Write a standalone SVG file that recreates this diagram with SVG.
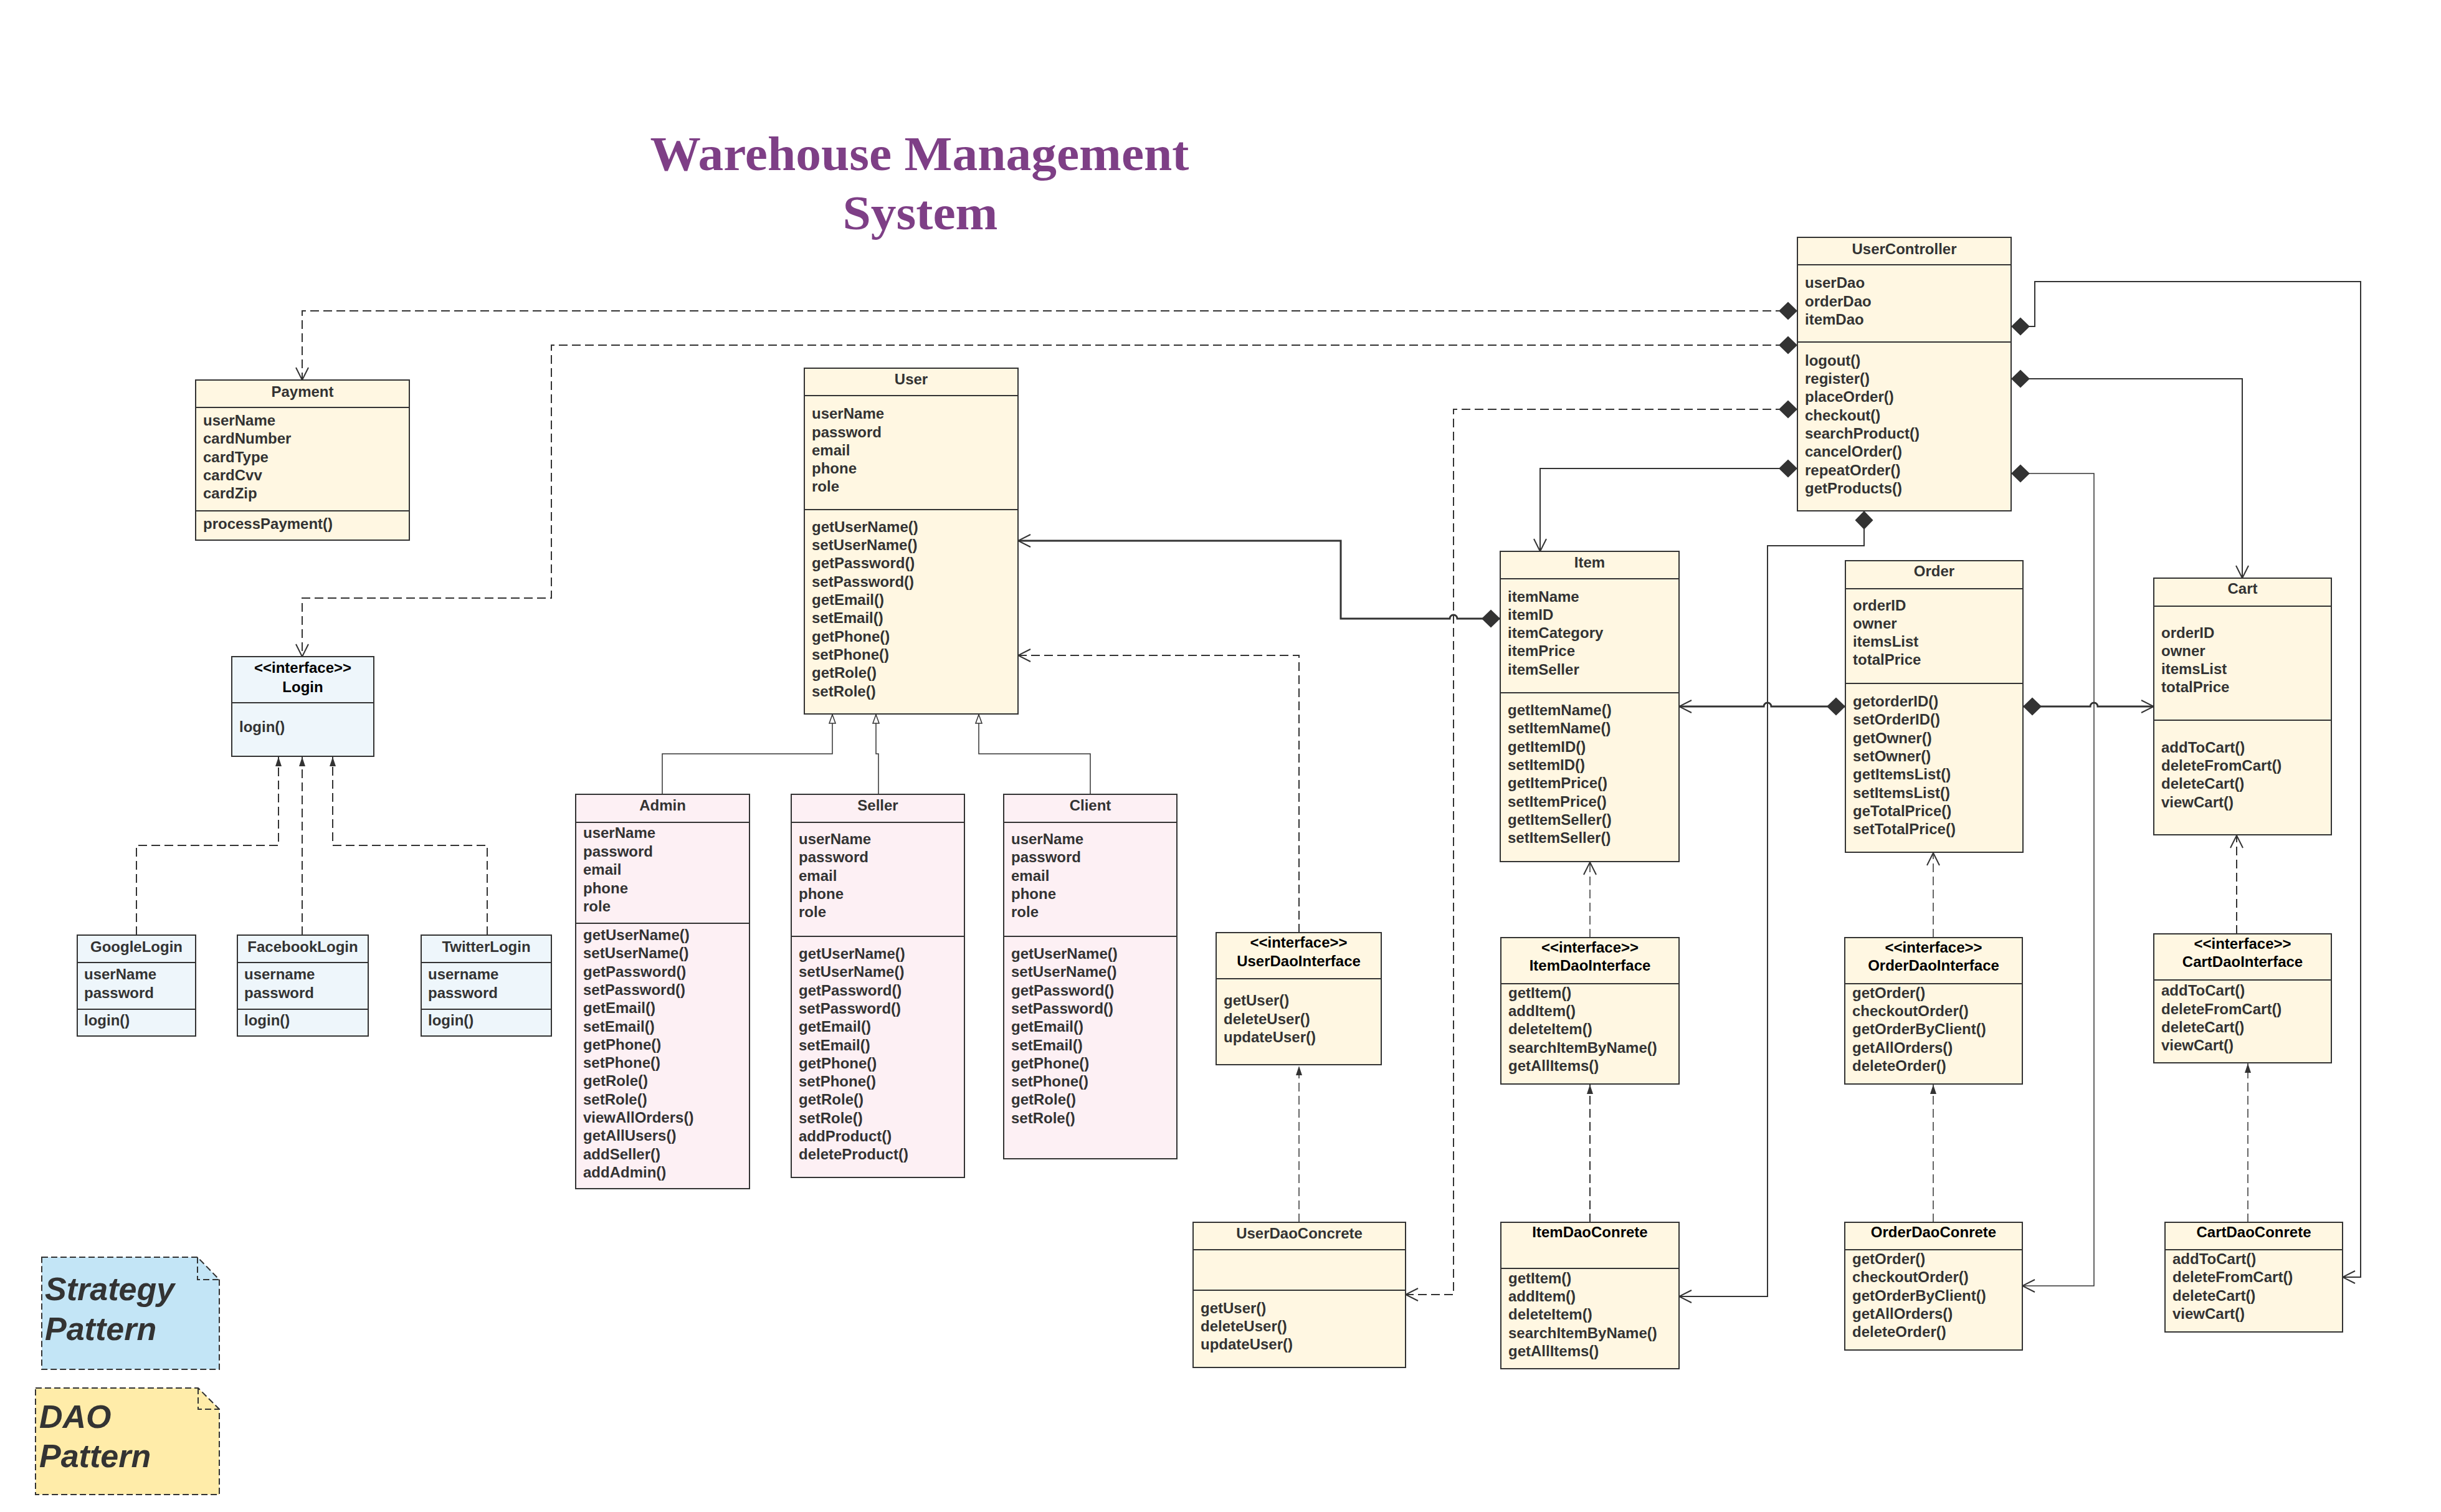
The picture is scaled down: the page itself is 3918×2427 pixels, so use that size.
<svg xmlns="http://www.w3.org/2000/svg" width="3918" height="2427" viewBox="0 0 3918 2427">
<style>
.box{fill:#FFF7E2;stroke:#333;stroke-width:2}
.pink{fill:#FDF0F4}
.blue{fill:#EEF6FB}
.ln{stroke:#333;stroke-width:2;fill:none}
.t{font-family:"Liberation Sans",Arial,sans-serif;font-size:24px;font-weight:bold;fill:#333}
.c{text-anchor:middle}
.k{fill:#000}
.conn{fill:none;stroke:#333;stroke-width:2}
.thick{stroke-width:3}
.thin{stroke-width:1.5}
.dash{stroke-dasharray:14 7}
.note{stroke:#333;stroke-width:2;stroke-dasharray:10 5}
.nt{font-family:"Liberation Sans",Arial,sans-serif;font-size:52px;font-weight:bold;font-style:italic;fill:#333}
</style>
<defs>
<marker id="open" viewBox="0 0 22 22" refX="21" refY="11" markerWidth="22" markerHeight="22" markerUnits="userSpaceOnUse" orient="auto"><path d="M1 1 L21 11 L1 21" fill="none" stroke="#333" stroke-width="2" stroke-dasharray="none"/></marker>
<marker id="dia" viewBox="0 0 30 30" refX="0" refY="15" markerWidth="30" markerHeight="30" markerUnits="userSpaceOnUse" orient="auto"><path d="M0 15 L15 0.5 L30 15 L15 29.5Z" fill="#333"/></marker>
<marker id="tri" viewBox="0 0 16 12" refX="15" refY="6" markerWidth="16" markerHeight="12" markerUnits="userSpaceOnUse" orient="auto"><path d="M0 1 L15 6 L0 11Z" fill="#333"/></marker>
<marker id="htri" viewBox="0 0 16 12" refX="15" refY="6" markerWidth="16" markerHeight="12" markerUnits="userSpaceOnUse" orient="auto"><path d="M1 1 L15 6 L1 11Z" fill="#fff" stroke="#333" stroke-width="1.5" stroke-dasharray="none"/></marker>
</defs>
<rect width="3918" height="2427" fill="#fff"/>

<g id="title">
<text x="1476" y="273" text-anchor="middle" font-family="'Liberation Serif',serif" font-size="78" font-weight="bold" fill="#7E3F86" textLength="865" lengthAdjust="spacingAndGlyphs">Warehouse Management</text>
<text x="1477" y="368" text-anchor="middle" font-family="'Liberation Serif',serif" font-size="78" font-weight="bold" fill="#7E3F86" textLength="249" lengthAdjust="spacingAndGlyphs">System</text>
</g>

<g id="connectors">
<path class="conn dash" d="M2885 499 H485 V610" marker-start="url(#dia)" marker-end="url(#open)"/>
<path class="conn dash" d="M2885 554 H885 V960 H485 V1054" marker-start="url(#dia)" marker-end="url(#open)"/>
<path class="conn dash" d="M2885 657 H2333 V2078 H2256" marker-start="url(#dia)" marker-end="url(#open)"/>
<path class="conn" d="M2885 752 H2472 V885" marker-start="url(#dia)" marker-end="url(#open)"/>
<path class="conn thick" d="M2408 993 H2339 A6 6 0 0 0 2327 993 H2152 V868 H1634" marker-start="url(#dia)" marker-end="url(#open)"/>
<path class="conn dash" d="M2085 1497 V1052 H1634" marker-end="url(#open)"/>
<path class="conn thin" d="M1063 1275 V1210 H1336 V1147" marker-end="url(#htri)"/>
<path class="conn thin" d="M1410 1275 V1210 H1406 V1147" marker-end="url(#htri)"/>
<path class="conn thin" d="M1750 1275 V1210 H1571 V1147" marker-end="url(#htri)"/>
<path class="conn dash" d="M219 1501 V1357 H447 V1215" marker-end="url(#tri)"/>
<path class="conn dash" d="M485 1501 V1215" marker-end="url(#tri)"/>
<path class="conn dash" d="M782 1501 V1357 H534 V1215" marker-end="url(#tri)"/>
<path class="conn dash thin" d="M2085 1962 V1711" marker-end="url(#tri)"/>
<path class="conn dash" d="M2552 1962 V1741" marker-end="url(#tri)"/>
<path class="conn dash thin" d="M2552 1505 V1384" marker-end="url(#open)"/>
<path class="conn dash thin" d="M3103 1962 V1741" marker-end="url(#tri)"/>
<path class="conn dash thin" d="M3103 1505 V1369" marker-end="url(#open)"/>
<path class="conn dash thin" d="M3608 1962 V1707" marker-end="url(#tri)"/>
<path class="conn dash" d="M3590 1499 V1341" marker-end="url(#open)"/>
<path class="conn" d="M2992 820 V876 H2837 V2081 H2695" marker-start="url(#dia)" marker-end="url(#open)"/>
<path class="conn thick" d="M2962 1134 H2843 A6 6 0 0 0 2831 1134 H2695" marker-start="url(#dia)" marker-end="url(#open)"/>
<path class="conn thick" d="M3247 1134 H3355 A6 6 0 0 1 3367 1134 H3457" marker-start="url(#dia)" marker-end="url(#open)"/>
<path class="conn" d="M3228 524 H3266 V452 H3789 V2050 H3760" marker-start="url(#dia)" marker-end="url(#open)"/>
<path class="conn" d="M3228 608 H3599 V928" marker-start="url(#dia)" marker-end="url(#open)"/>
<path class="conn thin" d="M3228 760 H3361 V2064 H3246" marker-start="url(#dia)" marker-end="url(#open)"/>
<path class="conn thin" d="M3210 751 L3228 760 L3210 770"/>
</g>

<g id="payment">
<rect class="box" x="314" y="610" width="343" height="257"/>
<path class="ln" d="M314 654H657M314 820H657"/>
<text class="t c" x="485.5" y="637">Payment</text>
<text class="t"><tspan x="326" y="683">userName</tspan><tspan x="326" y="712">cardNumber</tspan><tspan x="326" y="742">cardType</tspan><tspan x="326" y="771">cardCvv</tspan><tspan x="326" y="800">cardZip</tspan><tspan x="326" y="849">processPayment()</tspan></text>
</g>

<g id="usercontroller">
<rect class="box" x="2885" y="381" width="343" height="439"/>
<path class="ln" d="M2885 425H3228M2885 549H3228"/>
<text class="t c" x="3056.5" y="408">UserController</text>
<text class="t"><tspan x="2897" y="462">userDao</tspan><tspan x="2897" y="492">orderDao</tspan><tspan x="2897" y="521">itemDao</tspan><tspan x="2897" y="587">logout()</tspan><tspan x="2897" y="616">register()</tspan><tspan x="2897" y="645">placeOrder()</tspan><tspan x="2897" y="675">checkout()</tspan><tspan x="2897" y="704">searchProduct()</tspan><tspan x="2897" y="733">cancelOrder()</tspan><tspan x="2897" y="763">repeatOrder()</tspan><tspan x="2897" y="792">getProducts()</tspan></text>
</g>

<g id="user">
<rect class="box" x="1291" y="591" width="343" height="555"/>
<path class="ln" d="M1291 635H1634M1291 818H1634"/>
<text class="t c" x="1462.5" y="617">User</text>
<text class="t"><tspan x="1303" y="672">userName</tspan><tspan x="1303" y="702">password</tspan><tspan x="1303" y="731">email</tspan><tspan x="1303" y="760">phone</tspan><tspan x="1303" y="789">role</tspan><tspan x="1303" y="854">getUserName()</tspan><tspan x="1303" y="883">setUserName()</tspan><tspan x="1303" y="912">getPassword()</tspan><tspan x="1303" y="942">setPassword()</tspan><tspan x="1303" y="971">getEmail()</tspan><tspan x="1303" y="1000">setEmail()</tspan><tspan x="1303" y="1030">getPhone()</tspan><tspan x="1303" y="1059">setPhone()</tspan><tspan x="1303" y="1088">getRole()</tspan><tspan x="1303" y="1118">setRole()</tspan></text>
</g>

<g id="login">
<rect class="box blue" x="372" y="1054" width="228" height="160"/>
<path class="ln" d="M372 1128H600"/>
<text class="t c k" x="486" y="1080">&lt;&lt;interface&gt;&gt;</text>
<text class="t c k" x="486" y="1111">Login</text>
<text class="t" x="384" y="1175">login()</text>
</g>

<g id="googlelogin">
<rect class="box blue" x="124" y="1501" width="190" height="162"/>
<path class="ln" d="M124 1545H314M124 1620H314"/>
<text class="t c" x="219" y="1528">GoogleLogin</text>
<text class="t"><tspan x="135" y="1572">userName</tspan><tspan x="135" y="1602">password</tspan><tspan x="135" y="1646">login()</tspan></text>
</g>

<g id="facebooklogin">
<rect class="box blue" x="381" y="1501" width="210" height="162"/>
<path class="ln" d="M381 1545H591M381 1620H591"/>
<text class="t c" x="486" y="1528">FacebookLogin</text>
<text class="t"><tspan x="392" y="1572">username</tspan><tspan x="392" y="1602">password</tspan><tspan x="392" y="1646">login()</tspan></text>
</g>

<g id="twitterlogin">
<rect class="box blue" x="676" y="1501" width="209" height="162"/>
<path class="ln" d="M676 1545H885M676 1620H885"/>
<text class="t c" x="780.5" y="1528">TwitterLogin</text>
<text class="t"><tspan x="687" y="1572">username</tspan><tspan x="687" y="1602">password</tspan><tspan x="687" y="1646">login()</tspan></text>
</g>

<g id="admin">
<rect class="box pink" x="924" y="1275" width="279" height="633"/>
<path class="ln" d="M924 1320H1203M924 1482H1203"/>
<text class="t c" x="1063.5" y="1301">Admin</text>
<text class="t"><tspan x="936" y="1345">userName</tspan><tspan x="936" y="1375">password</tspan><tspan x="936" y="1404">email</tspan><tspan x="936" y="1434">phone</tspan><tspan x="936" y="1463">role</tspan><tspan x="936" y="1509">getUserName()</tspan><tspan x="936" y="1538">setUserName()</tspan><tspan x="936" y="1568">getPassword()</tspan><tspan x="936" y="1597">setPassword()</tspan><tspan x="936" y="1626">getEmail()</tspan><tspan x="936" y="1656">setEmail()</tspan><tspan x="936" y="1685">getPhone()</tspan><tspan x="936" y="1714">setPhone()</tspan><tspan x="936" y="1743">getRole()</tspan><tspan x="936" y="1773">setRole()</tspan><tspan x="936" y="1802">viewAllOrders()</tspan><tspan x="936" y="1831">getAllUsers()</tspan><tspan x="936" y="1861">addSeller()</tspan><tspan x="936" y="1890">addAdmin()</tspan></text>
</g>

<g id="seller">
<rect class="box pink" x="1270" y="1275" width="278" height="615"/>
<path class="ln" d="M1270 1320H1548M1270 1503H1548"/>
<text class="t c" x="1409" y="1301">Seller</text>
<text class="t"><tspan x="1282" y="1355">userName</tspan><tspan x="1282" y="1384">password</tspan><tspan x="1282" y="1414">email</tspan><tspan x="1282" y="1443">phone</tspan><tspan x="1282" y="1472">role</tspan><tspan x="1282" y="1539">getUserName()</tspan><tspan x="1282" y="1568">setUserName()</tspan><tspan x="1282" y="1598">getPassword()</tspan><tspan x="1282" y="1627">setPassword()</tspan><tspan x="1282" y="1656">getEmail()</tspan><tspan x="1282" y="1686">setEmail()</tspan><tspan x="1282" y="1715">getPhone()</tspan><tspan x="1282" y="1744">setPhone()</tspan><tspan x="1282" y="1773">getRole()</tspan><tspan x="1282" y="1803">setRole()</tspan><tspan x="1282" y="1832">addProduct()</tspan><tspan x="1282" y="1861">deleteProduct()</tspan></text>
</g>

<g id="client">
<rect class="box pink" x="1611" y="1275" width="278" height="585"/>
<path class="ln" d="M1611 1320H1889M1611 1503H1889"/>
<text class="t c" x="1750" y="1301">Client</text>
<text class="t"><tspan x="1623" y="1355">userName</tspan><tspan x="1623" y="1384">password</tspan><tspan x="1623" y="1414">email</tspan><tspan x="1623" y="1443">phone</tspan><tspan x="1623" y="1472">role</tspan><tspan x="1623" y="1539">getUserName()</tspan><tspan x="1623" y="1568">setUserName()</tspan><tspan x="1623" y="1598">getPassword()</tspan><tspan x="1623" y="1627">setPassword()</tspan><tspan x="1623" y="1656">getEmail()</tspan><tspan x="1623" y="1686">setEmail()</tspan><tspan x="1623" y="1715">getPhone()</tspan><tspan x="1623" y="1744">setPhone()</tspan><tspan x="1623" y="1773">getRole()</tspan><tspan x="1623" y="1803">setRole()</tspan></text>
</g>

<g id="item">
<rect class="box" x="2408" y="885" width="287" height="498"/>
<path class="ln" d="M2408 929H2695M2408 1112H2695"/>
<text class="t c" x="2551.5" y="911">Item</text>
<text class="t"><tspan x="2420" y="966">itemName</tspan><tspan x="2420" y="995">itemID</tspan><tspan x="2420" y="1024">itemCategory</tspan><tspan x="2420" y="1053">itemPrice</tspan><tspan x="2420" y="1083">itemSeller</tspan><tspan x="2420" y="1148">getItemName()</tspan><tspan x="2420" y="1177">setItemName()</tspan><tspan x="2420" y="1207">getItemID()</tspan><tspan x="2420" y="1236">setItemID()</tspan><tspan x="2420" y="1265">getItemPrice()</tspan><tspan x="2420" y="1295">setItemPrice()</tspan><tspan x="2420" y="1324">getItemSeller()</tspan><tspan x="2420" y="1353">setItemSeller()</tspan></text>
</g>

<g id="order">
<rect class="box" x="2962" y="900" width="285" height="468"/>
<path class="ln" d="M2962 945H3247M2962 1097H3247"/>
<text class="t c" x="3104.5" y="925">Order</text>
<text class="t"><tspan x="2974" y="980">orderID</tspan><tspan x="2974" y="1009">owner</tspan><tspan x="2974" y="1038">itemsList</tspan><tspan x="2974" y="1067">totalPrice</tspan><tspan x="2974" y="1134">getorderID()</tspan><tspan x="2974" y="1163">setOrderID()</tspan><tspan x="2974" y="1193">getOwner()</tspan><tspan x="2974" y="1222">setOwner()</tspan><tspan x="2974" y="1251">getItemsList()</tspan><tspan x="2974" y="1281">setItemsList()</tspan><tspan x="2974" y="1310">geTotalPrice()</tspan><tspan x="2974" y="1339">setTotalPrice()</tspan></text>
</g>

<g id="cart">
<rect class="box" x="3457" y="928" width="285" height="412"/>
<path class="ln" d="M3457 973H3742M3457 1156H3742"/>
<text class="t c" x="3599.5" y="953">Cart</text>
<text class="t"><tspan x="3469" y="1024">orderID</tspan><tspan x="3469" y="1053">owner</tspan><tspan x="3469" y="1082">itemsList</tspan><tspan x="3469" y="1111">totalPrice</tspan><tspan x="3469" y="1208">addToCart()</tspan><tspan x="3469" y="1237">deleteFromCart()</tspan><tspan x="3469" y="1266">deleteCart()</tspan><tspan x="3469" y="1296">viewCart()</tspan></text>
</g>

<g id="userdaointerface">
<rect class="box" x="1952" y="1497" width="265" height="212"/>
<path class="ln" d="M1952 1571H2217"/>
<text class="t c k" x="2084.5" y="1521">&lt;&lt;interface&gt;&gt;</text>
<text class="t c k" x="2084.5" y="1551">UserDaoInterface</text>
<text class="t"><tspan x="1964" y="1614">getUser()</tspan><tspan x="1964" y="1644">deleteUser()</tspan><tspan x="1964" y="1673">updateUser()</tspan></text>
</g>

<g id="itemdaointerface">
<rect class="box" x="2409" y="1505" width="286" height="235"/>
<path class="ln" d="M2409 1579H2695"/>
<text class="t c k" x="2552" y="1529">&lt;&lt;interface&gt;&gt;</text>
<text class="t c k" x="2552" y="1558">ItemDaoInterface</text>
<text class="t"><tspan x="2421" y="1602">getItem()</tspan><tspan x="2421" y="1631">addItem()</tspan><tspan x="2421" y="1660">deleteItem()</tspan><tspan x="2421" y="1690">searchItemByName()</tspan><tspan x="2421" y="1719">getAllItems()</tspan></text>
</g>

<g id="orderdaointerface">
<rect class="box" x="2961" y="1505" width="285" height="235"/>
<path class="ln" d="M2961 1579H3246"/>
<text class="t c k" x="3103.5" y="1529">&lt;&lt;interface&gt;&gt;</text>
<text class="t c k" x="3103.5" y="1558">OrderDaoInterface</text>
<text class="t"><tspan x="2973" y="1602">getOrder()</tspan><tspan x="2973" y="1631">checkoutOrder()</tspan><tspan x="2973" y="1660">getOrderByClient()</tspan><tspan x="2973" y="1690">getAllOrders()</tspan><tspan x="2973" y="1719">deleteOrder()</tspan></text>
</g>

<g id="cartdaointerface">
<rect class="box" x="3457" y="1499" width="285" height="207"/>
<path class="ln" d="M3457 1573H3742"/>
<text class="t c k" x="3599.5" y="1523">&lt;&lt;interface&gt;&gt;</text>
<text class="t c k" x="3599.5" y="1552">CartDaoInterface</text>
<text class="t"><tspan x="3469" y="1598">addToCart()</tspan><tspan x="3469" y="1628">deleteFromCart()</tspan><tspan x="3469" y="1657">deleteCart()</tspan><tspan x="3469" y="1686">viewCart()</tspan></text>
</g>

<g id="userdaoconcrete">
<rect class="box" x="1915" y="1962" width="341" height="233"/>
<path class="ln" d="M1915 2006H2256M1915 2071H2256"/>
<text class="t c" x="2085.5" y="1988">UserDaoConcrete</text>
<text class="t"><tspan x="1927" y="2108">getUser()</tspan><tspan x="1927" y="2137">deleteUser()</tspan><tspan x="1927" y="2166">updateUser()</tspan></text>
</g>

<g id="itemdaoconrete">
<rect class="box" x="2409" y="1962" width="286" height="235"/>
<path class="ln" d="M2409 2036H2695"/>
<text class="t c k" x="2552" y="1986">ItemDaoConrete</text>
<text class="t"><tspan x="2421" y="2060">getItem()</tspan><tspan x="2421" y="2089">addItem()</tspan><tspan x="2421" y="2118">deleteItem()</tspan><tspan x="2421" y="2148">searchItemByName()</tspan><tspan x="2421" y="2177">getAllItems()</tspan></text>
</g>

<g id="orderdaoconrete">
<rect class="box" x="2961" y="1962" width="285" height="205"/>
<path class="ln" d="M2961 2006H3246"/>
<text class="t c k" x="3103.5" y="1986">OrderDaoConrete</text>
<text class="t"><tspan x="2973" y="2029">getOrder()</tspan><tspan x="2973" y="2058">checkoutOrder()</tspan><tspan x="2973" y="2088">getOrderByClient()</tspan><tspan x="2973" y="2117">getAllOrders()</tspan><tspan x="2973" y="2146">deleteOrder()</tspan></text>
</g>

<g id="cartdaoconrete">
<rect class="box" x="3475" y="1962" width="285" height="176"/>
<path class="ln" d="M3475 2006H3760"/>
<text class="t c k" x="3617.5" y="1986">CartDaoConrete</text>
<text class="t"><tspan x="3487" y="2029">addToCart()</tspan><tspan x="3487" y="2058">deleteFromCart()</tspan><tspan x="3487" y="2088">deleteCart()</tspan><tspan x="3487" y="2117">viewCart()</tspan></text>
</g>

<g id="note-strategy">
<path class="note" d="M67 2018 H317 L352 2054 V2198 H67 Z" fill="#C3E5F6"/>
<path class="note" d="M317 2018 V2054 H352" fill="none"/>
<text class="nt"><tspan x="72" y="2087">Strategy</tspan><tspan x="72" y="2151">Pattern</tspan></text>
</g>

<g id="note-dao">
<path class="note" d="M57 2228 H318 L352 2262 V2399 H57 Z" fill="#FFECA9"/>
<path class="note" d="M318 2228 V2262 H352" fill="none"/>
<text class="nt"><tspan x="63" y="2292">DAO</tspan><tspan x="63" y="2355">Pattern</tspan></text>
</g>
</svg>
